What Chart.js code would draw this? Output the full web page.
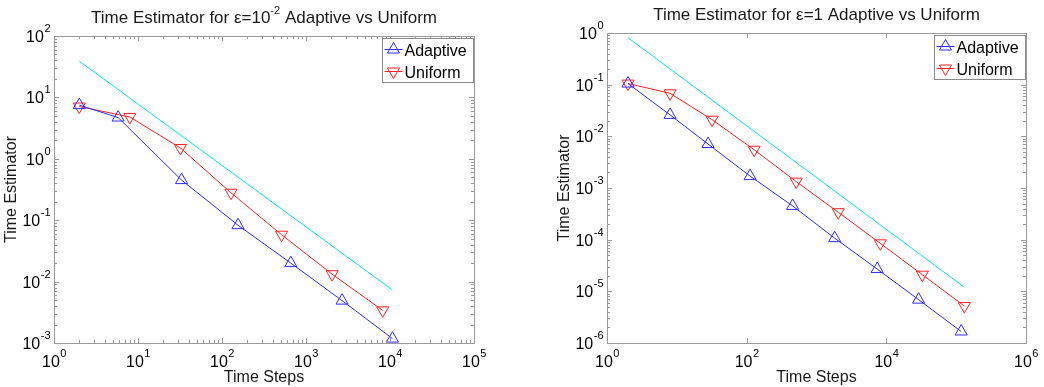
<!DOCTYPE html>
<html>
<head>
<meta charset="utf-8">
<script src="https://cdn.jsdelivr.net/npm/chart.js@4.4.0/dist/chart.umd.min.js"></script>
<style>
  body { margin: 0; background: #fff; }
  #wrap { position: relative; width: 1044px; height: 387px; }
  canvas { position: absolute; top: 0; }
</style>
</head>
<body>
<div id="wrap">
  <canvas id="chartSmall" width="522" height="387" style="left:0"></canvas>
  <canvas id="chartOne" width="522" height="387" style="left:522px"></canvas>
</div>
<script>
// eps = 10^-2 panel
const smallStepsAdaptive = [2, 5.8, 33, 155, 660, 2690, 10700];
const smallAdaptive = [7.5, 4.7, 0.45, 0.083, 0.020, 0.0049, 0.00118];
const smallStepsUniform = [2, 8, 32, 128, 512, 2048, 8192];
const smallUniform = [7.1, 4.8, 1.5, 0.28, 0.058, 0.0132, 0.0034];
const smallRefSteps = [2, 10700];
const smallRef = [39, 0.0073];

// eps = 1 panel
const oneStepsAdaptive = [2, 8, 28, 112, 455, 1820, 7400, 29000, 118000];
const oneAdaptive = [0.105, 0.026, 0.0071, 0.0017, 0.00045, 1.07e-4, 2.7e-5, 6.9e-6, 1.67e-6];
const oneStepsUniform = [2, 8, 32, 128, 512, 2048, 8192, 32768, 131072];
const oneUniform = [0.105, 0.068, 0.021, 0.0055, 0.00133, 0.00034, 8.5e-5, 2.1e-5, 5.2e-6];
const oneRefSteps = [2, 131000];
const oneRef = [0.81, 1.2e-5];

const BLUE = 'rgb(45,45,255)';
const RED = 'rgb(255,35,35)';
const CYAN = 'rgb(0,235,235)';
const FONT = '"Liberation Sans", Arial, Helvetica, sans-serif';

function toPoints(xs, ys) {
  return xs.map((x, i) => ({ x: x, y: ys[i] }));
}

// draws "10" with a raised exponent
function drawPow(ctx, exp, x, baseline, align) {
  ctx.font = '16px ' + FONT;
  const wMain = ctx.measureText('10').width;
  ctx.font = '11px ' + FONT;
  const wSup = ctx.measureText(exp).width;
  let start = x;
  if (align === 'center') start = x - (wMain + wSup) / 2;
  if (align === 'right') start = x - wMain - wSup;
  ctx.textAlign = 'left';
  ctx.font = '16px ' + FONT;
  ctx.fillText('10', start, baseline);
  ctx.font = '11px ' + FONT;
  ctx.fillText(exp, start + wMain + 0.5, baseline - 10);
}

// title made of pieces, some of them superscript
function drawPieces(ctx, pieces, cx, baseline) {
  let total = 0;
  pieces.forEach(p => {
    ctx.font = (p.sup ? '11px ' : '17px ') + FONT;
    p.w = ctx.measureText(p.text).width;
    total += p.w;
  });
  let x = cx - total / 2;
  ctx.textAlign = 'left';
  pieces.forEach(p => {
    ctx.font = (p.sup ? '11px ' : '17px ') + FONT;
    ctx.fillText(p.text, x, p.sup ? baseline - 9 : baseline);
    x += p.w;
  });
}

const matlabAxes = {
  id: 'matlabAxes',
  afterDraw(chart, args, opts) {
    const ctx = chart.ctx;
    const area = chart.chartArea;
    const xs = chart.scales.x;
    const ys = chart.scales.y;
    ctx.save();

    // box
    ctx.strokeStyle = '#9a9a9a';
    ctx.lineWidth = 1;
    ctx.strokeRect(Math.round(area.left) + 0.5, Math.round(area.top) + 0.5,
      Math.round(area.right - area.left), Math.round(area.bottom - area.top));

    ctx.beginPath();
    // x ticks
    const x0 = Math.log10(xs.min), x1 = Math.log10(xs.max);
    for (let p = x0; p <= x1; p++) {
      const major = (p - x0) % opts.xStep === 0;
      if (major) {
        const px = Math.round(xs.getPixelForValue(Math.pow(10, p))) + 0.5;
        ctx.moveTo(px, area.bottom); ctx.lineTo(px, area.bottom - 5);
        ctx.moveTo(px, area.top); ctx.lineTo(px, area.top + 5);
      }
      if (opts.xMinor && p < x1) {
        for (let k = 2; k <= 9; k++) {
          const px = Math.round(xs.getPixelForValue(k * Math.pow(10, p))) + 0.5;
          ctx.moveTo(px, area.bottom); ctx.lineTo(px, area.bottom - 3);
          ctx.moveTo(px, area.top); ctx.lineTo(px, area.top + 3);
        }
      }
    }
    // y ticks
    const y0 = Math.log10(ys.min), y1 = Math.log10(ys.max);
    for (let p = y0; p <= y1; p++) {
      const py = Math.round(ys.getPixelForValue(Math.pow(10, p))) + 0.5;
      ctx.moveTo(area.left, py); ctx.lineTo(area.left + 5, py);
      ctx.moveTo(area.right, py); ctx.lineTo(area.right - 5, py);
      if (p < y1) {
        for (let k = 2; k <= 9; k++) {
          const q = Math.round(ys.getPixelForValue(k * Math.pow(10, p))) + 0.5;
          ctx.moveTo(area.left, q); ctx.lineTo(area.left + 3, q);
          ctx.moveTo(area.right, q); ctx.lineTo(area.right - 3, q);
        }
      }
    }
    ctx.stroke();

    // tick labels
    ctx.fillStyle = '#000';
    for (let p = x0; p <= x1; p += opts.xStep) {
      drawPow(ctx, String(p), xs.getPixelForValue(Math.pow(10, p)), area.bottom + 24, 'center');
    }
    for (let p = y0; p <= y1; p++) {
      drawPow(ctx, String(p), area.left - 4, ys.getPixelForValue(Math.pow(10, p)) + 6, 'right');
    }

    // titles
    ctx.fillStyle = '#1a1a1a';
    const cx = (area.left + area.right) / 2;
    drawPieces(ctx, opts.title, cx, area.top - 13);
    ctx.font = '16px ' + FONT;
    ctx.textAlign = 'center';
    ctx.fillText(opts.xLabel, cx, area.bottom + 39);
    ctx.save();
    ctx.translate(area.left - 38, (area.top + area.bottom) / 2);
    ctx.rotate(-Math.PI / 2);
    ctx.fillText(opts.yLabel, 0, 0);
    ctx.restore();

    // legend box inside the axes, top right
    const items = chart.data.datasets.filter(d => d.label);
    const w = 91, h = 44;
    const lx = Math.round(area.right) - 1 - w + 0.5;
    const ly = Math.round(area.top) + 2 + 0.5;
    ctx.fillStyle = '#fff';
    ctx.fillRect(lx, ly, w, h);
    ctx.strokeStyle = '#8a8a8a';
    ctx.strokeRect(lx, ly, w, h);
    items.forEach((d, i) => {
      const cy = ly + 11 + i * 22;
      ctx.strokeStyle = d.borderColor;
      ctx.lineWidth = 1;
      ctx.beginPath();
      ctx.moveTo(lx + 2, cy); ctx.lineTo(lx + 20, cy);
      ctx.stroke();
      ctx.fillStyle = 'rgba(0,0,0,0)';
      Chart.helpers.drawPoint(ctx, {
        pointStyle: 'triangle', radius: 7, rotation: d.pointRotation || 0, borderWidth: 1
      }, lx + 11, cy);
      ctx.fillStyle = '#000';
      ctx.font = '16px ' + FONT;
      ctx.textAlign = 'left';
      ctx.fillText(d.label, lx + 22, cy + 6);
    });
    ctx.restore();
  }
};

function makeChart(id, cfg) {
  const ctx = document.getElementById(id).getContext('2d');
  return new Chart(ctx, {
    type: 'scatter',
    data: {
      datasets: [{
        label: 'Adaptive',
        data: toPoints(cfg.stepsAdaptive, cfg.adaptive),
        showLine: true,
        borderColor: BLUE,
        backgroundColor: 'rgba(0,0,0,0)',
        borderWidth: 1,
        pointStyle: 'triangle',
        pointRadius: 7,
        pointBorderWidth: 1,
        clip: false
      }, {
        label: 'Uniform',
        data: toPoints(cfg.stepsUniform, cfg.uniform),
        showLine: true,
        borderColor: RED,
        backgroundColor: 'rgba(0,0,0,0)',
        borderWidth: 1,
        pointStyle: 'triangle',
        pointRotation: 180,
        pointRadius: 7,
        pointBorderWidth: 1,
        clip: false
      }, {
        data: toPoints(cfg.refSteps, cfg.ref),
        showLine: true,
        borderColor: CYAN,
        borderWidth: 1,
        pointRadius: 0,
        clip: false
      }]
    },
    options: {
      responsive: false,
      animation: false,
      devicePixelRatio: 1,
      layout: { padding: cfg.padding },
      scales: {
        x: { type: 'logarithmic', min: cfg.xMin, max: cfg.xMax, display: false },
        y: { type: 'logarithmic', min: cfg.yMin, max: cfg.yMax, display: false }
      },
      plugins: {
        legend: { display: false },
        tooltip: { enabled: false },
        matlabAxes: {
          title: cfg.title,
          xLabel: 'Time Steps',
          yLabel: 'Time Estimator',
          xStep: cfg.xStep,
          xMinor: cfg.xMinor
        }
      }
    },
    plugins: [matlabAxes]
  });
}

makeChart('chartSmall', {
  stepsAdaptive: smallStepsAdaptive, adaptive: smallAdaptive,
  stepsUniform: smallStepsUniform, uniform: smallUniform,
  refSteps: smallRefSteps, ref: smallRef,
  xMin: 1, xMax: 1e5, yMin: 1e-3, yMax: 1e2,
  xStep: 1, xMinor: true,
  padding: { left: 54, right: 48, top: 36, bottom: 44 },
  title: [{ text: 'Time Estimator for ε=10' }, { text: '-2', sup: true }, { text: ' Adaptive vs Uniform' }]
});

makeChart('chartOne', {
  stepsAdaptive: oneStepsAdaptive, adaptive: oneAdaptive,
  stepsUniform: oneStepsUniform, uniform: oneUniform,
  refSteps: oneRefSteps, ref: oneRef,
  xMin: 1, xMax: 1e6, yMin: 1e-6, yMax: 1,
  xStep: 2, xMinor: false,
  padding: { left: 85, right: 18, top: 33, bottom: 44 },
  title: [{ text: 'Time Estimator for ε=1 Adaptive vs Uniform' }]
});
</script>
</body>
</html>
